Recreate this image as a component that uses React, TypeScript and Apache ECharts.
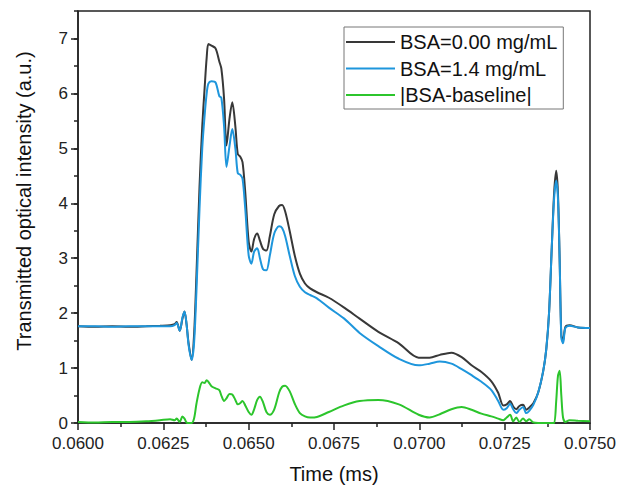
import React, { useEffect, useRef } from "react";
import * as echarts from "echarts";

const timeMs = [
  0.0600, 0.0605, 0.0610, 0.0615, 0.0620, 0.0624, 0.0627, 0.06283, 0.06289, 0.06298,
  0.06306, 0.06312, 0.06318, 0.06324, 0.06333, 0.06340, 0.06347, 0.06356, 0.06364, 0.06371,
  0.06377, 0.06382, 0.06391, 0.06403, 0.06414, 0.06420, 0.06428, 0.06435, 0.06444, 0.06452,
  0.06461, 0.06468, 0.06475, 0.06482, 0.06490, 0.06500, 0.06508, 0.06516, 0.06525, 0.06533,
  0.06542, 0.06552, 0.06562, 0.06575, 0.06589, 0.06598, 0.06607, 0.06620, 0.06635, 0.06650,
  0.06665, 0.06680, 0.06700, 0.06735, 0.06780, 0.06825, 0.06880, 0.06940, 0.06998, 0.07030,
  0.07060, 0.07094, 0.07124, 0.07153, 0.07182, 0.07211, 0.07231, 0.07246, 0.07256, 0.07266,
  0.07275, 0.07284, 0.07293, 0.07304, 0.07313, 0.07322, 0.07334, 0.07348, 0.07363, 0.07372,
  0.07380, 0.07388, 0.07395, 0.07401, 0.07406, 0.07411, 0.07416, 0.07421, 0.07428, 0.07440,
  0.07465, 0.07500,
];

const bsa000 = [
  1.76, 1.75, 1.76, 1.75, 1.76, 1.77, 1.78, 1.80, 1.84, 1.68,
  1.90, 2.03, 1.80, 1.45, 1.15, 1.60, 2.70, 4.30, 5.40, 6.10,
  6.65, 6.90, 6.87, 6.82, 6.58, 6.45, 5.90, 5.05, 5.55, 5.84,
  5.40, 4.90, 4.85, 4.75, 4.20, 3.30, 3.12, 3.35, 3.45, 3.32,
  3.17, 3.14, 3.40, 3.80, 3.95, 3.97, 3.85, 3.50, 3.05, 2.72,
  2.54, 2.45, 2.38, 2.28, 2.10, 1.90, 1.66, 1.45, 1.19, 1.19,
  1.24, 1.28, 1.20, 1.05, 0.93, 0.76, 0.55, 0.32, 0.34, 0.40,
  0.30, 0.25, 0.31, 0.33, 0.24, 0.28, 0.36, 0.55, 0.95, 1.35,
  2.00, 3.20, 4.20, 4.59, 4.20, 3.00, 1.60, 1.50, 1.75, 1.78,
  1.74, 1.73,
];

const bsa14 = [
  1.76, 1.76, 1.75, 1.76, 1.76, 1.76, 1.76, 1.78, 1.82, 1.68,
  1.92, 2.03, 1.80, 1.42, 1.15, 1.45, 2.40, 3.90, 5.00, 5.60,
  6.00, 6.18, 6.22, 6.20, 5.95, 5.92, 5.40, 4.66, 5.05, 5.35,
  5.00, 4.55, 4.52, 4.45, 3.90, 3.05, 2.90, 3.12, 3.18, 3.00,
  2.80, 2.78, 3.05, 3.45, 3.58, 3.55, 3.40, 3.05, 2.68, 2.48,
  2.38, 2.33, 2.27, 2.10, 1.90, 1.64, 1.40, 1.17, 1.05, 1.08,
  1.12, 1.08, 0.98, 0.87, 0.75, 0.60, 0.40, 0.24, 0.27, 0.35,
  0.25, 0.18, 0.24, 0.29, 0.18, 0.22, 0.33, 0.55, 0.95, 1.35,
  2.00, 3.20, 4.10, 4.41, 4.10, 3.00, 1.55, 1.45, 1.73, 1.77,
  1.74, 1.73,
];

const diffAbs = [
  0.02, 0.01, 0.02, 0.02, 0.03, 0.05, 0.07, 0.05, 0.08, 0.02,
  0.12, 0.08, 0.01, 0.00, 0.00, 0.08, 0.35, 0.62, 0.74, 0.73,
  0.78, 0.75, 0.67, 0.63, 0.60, 0.50, 0.40, 0.45, 0.53, 0.52,
  0.42, 0.34, 0.36, 0.40, 0.32, 0.20, 0.15, 0.25, 0.42, 0.48,
  0.38, 0.20, 0.15, 0.25, 0.55, 0.66, 0.68, 0.58, 0.35, 0.18,
  0.12, 0.10, 0.11, 0.20, 0.32, 0.40, 0.42, 0.34, 0.15, 0.10,
  0.16, 0.25, 0.29, 0.24, 0.17, 0.12, 0.08, 0.05, 0.10, 0.15,
  0.03, 0.10, 0.02, 0.08, 0.03, 0.07, 0.01, 0.00, 0.00, 0.00,
  0.00, 0.00, 0.00, 0.40, 0.85, 0.95, 0.50, 0.10, 0.02, 0.05,
  0.04, 0.03,
];

const seriesNames = ["BSA=0.00 mg/mL", "BSA=1.4 mg/mL", "|BSA-baseline|"];
const seriesColors = ["#383838", "#1e96dc", "#2cc52c"];
const yMajorTicks = [0, 1, 2, 3, 4, 5, 6, 7];

const FONT = "'Liberation Sans', Arial, sans-serif";

export default function App() {
  const ref = useRef<HTMLDivElement>(null);
  useEffect(() => {
    if (!ref.current) return;
    const chart = echarts.init(ref.current, null, { renderer: "svg" });
    const valueSets = [bsa000, bsa14, diffAbs];
    const option: any = {
      animation: false,
      backgroundColor: "#ffffff",
      grid: {
        left: 78,
        right: 27,
        top: 11,
        bottom: 64,
        show: true,
        borderColor: "#222",
        borderWidth: 1.5,
        backgroundColor: "transparent",
      },
      legend: {
        orient: "vertical",
        left: 344,
        top: 27,
        padding: [5, 6, 4, 2],
        borderColor: "#777",
        borderWidth: 1,
        icon: "rect",
        itemWidth: 49,
        itemHeight: 2,
        itemGap: 6.5,
        textStyle: { fontSize: 20, fontFamily: FONT, color: "#111", lineHeight: 20 },
        data: seriesNames.map((n, i) => ({ name: n, icon: "rect", itemStyle: { color: seriesColors[i] } })),
      },
      xAxis: {
        type: "value",
        min: 0.06,
        max: 0.075,
        interval: 0.0025,
        name: "Time (ms)",
        nameLocation: "middle",
        nameGap: 41,
        nameTextStyle: { fontSize: 20, fontFamily: FONT, color: "#111" },
        axisLine: { show: true, onZero: false, lineStyle: { color: "#222", width: 1.5 } },
        axisTick: { show: true, inside: false, length: 7, lineStyle: { color: "#222", width: 1.5 } },
        minorTick: { show: true, splitNumber: 2, length: 4, lineStyle: { color: "#222", width: 1.5 } },
        splitLine: { show: false },
        minorSplitLine: { show: false },
        axisLabel: {
          margin: 12,
          fontSize: 17,
          fontFamily: FONT,
          color: "#222",
          formatter: (v: number) => v.toFixed(4),
        },
      },
      yAxis: [
        {
          type: "value",
          min: 0,
          max: 7.5,
          interval: 0.5,
          position: "left",
          axisLine: { show: true, onZero: false, lineStyle: { color: "#222", width: 1.5 } },
          axisTick: { show: true, length: 4, lineStyle: { color: "#222", width: 1.5 } },
          splitLine: { show: false },
          axisLabel: {
            margin: 10,
            fontSize: 17,
            fontFamily: FONT,
            color: "#222",
            formatter: (v: number) => (Math.abs(v - Math.round(v)) < 1e-6 && v < 7.4 ? String(Math.round(v)) : ""),
          },
        },
        {
          type: "value",
          min: 0,
          max: 7.5,
          interval: 1,
          position: "left",
          axisLine: { show: false },
          axisTick: { show: true, length: 7, customValues: yMajorTicks, lineStyle: { color: "#222", width: 1.5 } },
          axisLabel: { show: false },
          splitLine: { show: false },
        },
      ],
      graphic: [
        {
          type: "text",
          x: 24,
          y: 201,
          rotation: Math.PI / 2,
          style: {
            text: "Transmitted optical intensity (a.u.)",
            fontSize: 20,
            fontFamily: FONT,
            fill: "#111",
            align: "center",
            verticalAlign: "middle",
          },
        },
      ],
      series: seriesNames.map((name, i) => ({
        name,
        type: "line",
        yAxisIndex: 0,
        data: timeMs.map((t, k) => [t, valueSets[i][k]]),
        showSymbol: false,
        symbol: "none",
        smooth: 0.3,
        lineStyle: { color: seriesColors[i], width: 2 },
        itemStyle: { color: seriesColors[i] },
        z: 2 + i,
      })),
    };
    chart.setOption(option);
    return () => chart.dispose();
  }, []);
  return <div ref={ref} style={{ position: "fixed", left: 0, top: 0, width: 619, height: 489 }} />;
}
